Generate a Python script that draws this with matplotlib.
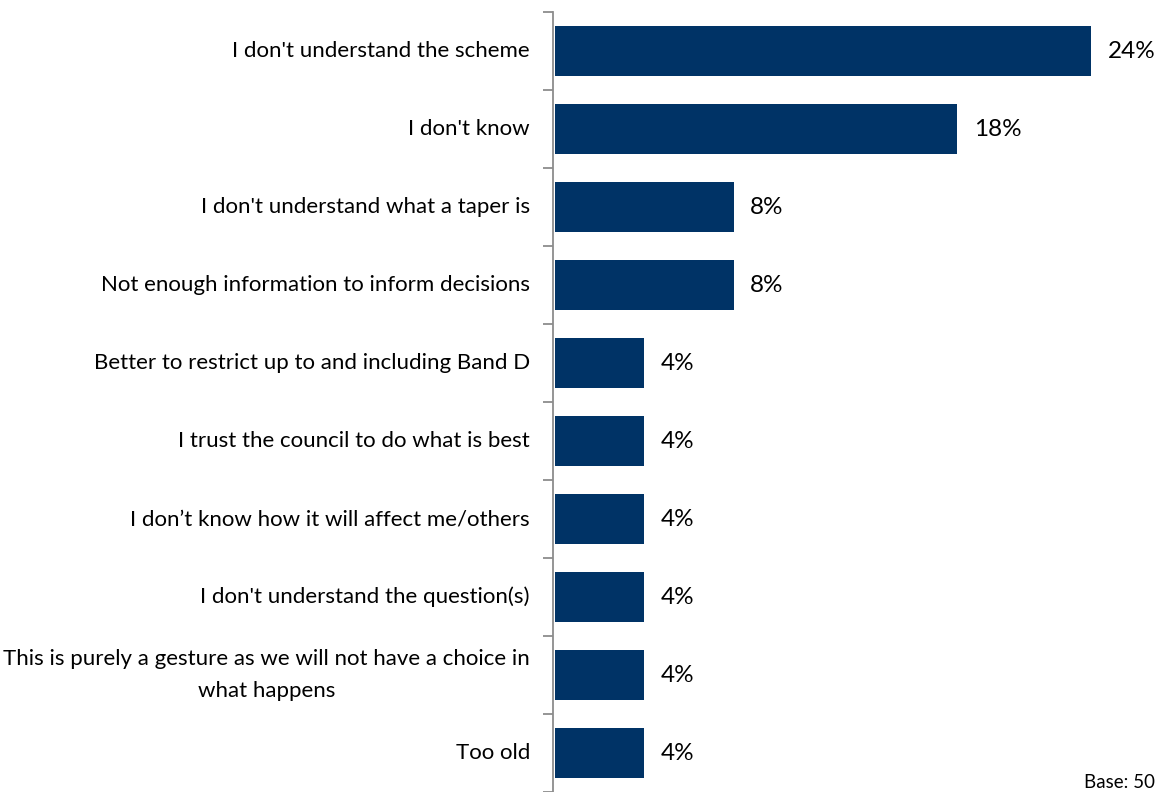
import matplotlib.pyplot as plt
from matplotlib.ticker import FixedLocator

# reasons given, top to bottom, and share of respondents (%)
reasons = [
    "I don't understand the scheme",
    "I don't know",
    "I don't understand what a taper is",
    "Not enough information to inform decisions",
    "Better to restrict up to and including Band D",
    "I trust the council to do what is best",
    "I don\u2019t know how it will affect me/others",
    "I don't understand the question(s)",
    "This is purely a gesture as we will not have a choice in\nwhat happens",
    "Too old",
]
shares = [24, 18, 8, 8, 4, 4, 4, 4, 4, 4]
base_n = 50

BAR_COLOR = "#003366"
AXIS_COLOR = "#8c8c8c"
plt.rcParams['font.family'] = ['Lato', 'DejaVu Sans']

W, H = 1165, 792
fig = plt.figure(figsize=(W / 100, H / 100), dpi=100)
ax = fig.add_axes([553 / W, 0.0, (1160 - 553) / W, (H - 12) / H])

n = len(reasons)
ypos = list(range(n))
ax.barh(ypos, shares, height=0.63, color=BAR_COLOR, left=0)
ax.set_ylim(n - 0.5, -0.5)
ax.set_xlim(-0.09, 27.1)

for y, v in zip(ypos, shares):
    ax.text(v + 0.75, y, f"{v}%", va='center', ha='left', fontsize=17.5, color='#000000')

# category labels, right aligned but centred line by line
for y, lab in zip(ypos, reasons):
    ax.annotate(lab, xy=(0, y), xycoords=('axes fraction', 'data'),
                xytext=(-23, 0), textcoords='offset pixels',
                ha='right', va='center', multialignment='center',
                fontsize=16, color='#000000', linespacing=1.75)

ax.set_yticks([])
ax.yaxis.set_minor_locator(FixedLocator([i - 0.5 for i in range(n + 1)]))
ax.tick_params(axis='y', which='minor', length=7, width=1.3, color=AXIS_COLOR, direction='out')
ax.set_xticks([])
for side in ('top', 'right', 'bottom'):
    ax.spines[side].set_visible(False)
ax.spines['left'].set_color(AXIS_COLOR)
ax.spines['left'].set_linewidth(1.3)

fig.text(1155 / W, 1 - 783 / H, f"Base: {base_n}", ha='right', va='center', fontsize=13.5)

fig.savefig("out.png", dpi=100)
